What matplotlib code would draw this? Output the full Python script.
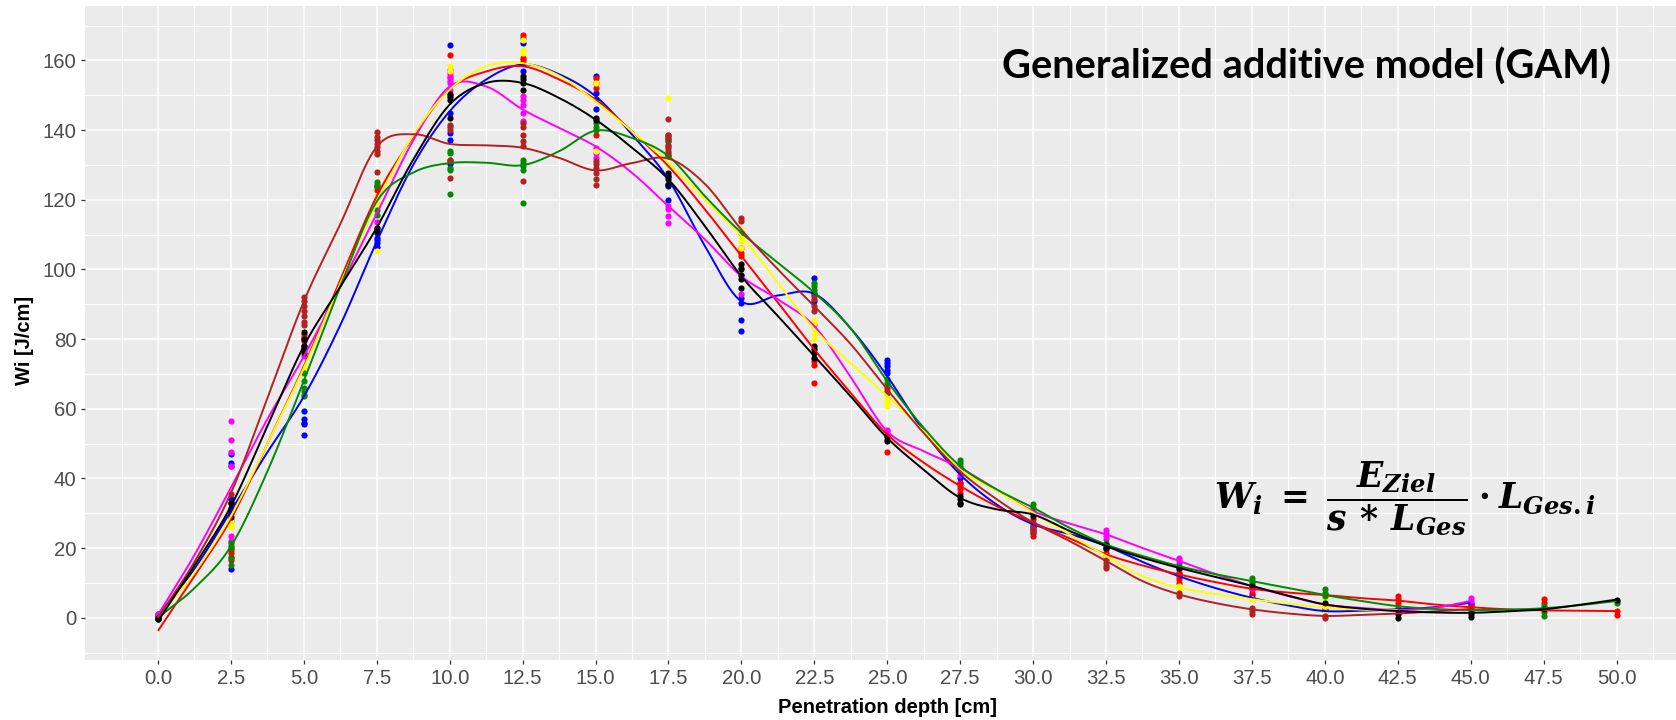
import numpy as np
import matplotlib
matplotlib.use("Agg")
import matplotlib.pyplot as plt

plt.rcParams['font.family'] = ['Liberation Sans', 'DejaVu Sans']
plt.rcParams['mathtext.fontset'] = 'custom'
plt.rcParams['mathtext.it'] = 'DejaVu Serif:italic:bold'
plt.rcParams['mathtext.rm'] = 'DejaVu Serif:bold'
plt.rcParams['mathtext.bf'] = 'DejaVu Serif:bold'

# ---------------- data ----------------
depth = [0.0, 2.5, 5.0, 7.5, 10.0, 12.5, 15.0, 17.5, 20.0, 22.5, 25.0,
         27.5, 30.0, 32.5, 35.0, 37.5, 40.0, 42.5, 45.0, 47.5, 50.0]

knots = [0.0, 1.25, 2.5, 3.75, 5.0, 6.25, 7.5, 8.75, 10.0, 11.25, 12.5, 13.75,
         15.0, 16.25, 17.5, 18.75, 20.0, 21.25, 22.5, 23.75, 25.0, 26.25, 27.5,
         28.75, 30.0, 31.25, 32.5, 33.75, 35.0, 36.25, 37.5, 38.75, 40.0, 41.25,
         42.5, 43.75, 45.0, 46.25, 47.5, 48.75, 50.0]

series_colors = ['#0000FF', '#FF0000', '#FF00FF', '#FFFF00', '#008B00', '#B22222', '#000000']

blue_pts = [[0, 0.5, 1.0], [47, 44.5, 43.5, 34, 33, 14], [80, 78, 59.3, 57, 56, 55.5, 52.3],
            [110.4, 109, 108.5, 107.5, 106.5], [164.5, 145, 139.2, 137.2, 130.1],
            [165, 159.2, 157], [155.6, 150.6, 149, 145.9], [126.7, 124.5, 123.9, 120],
            [91.8, 90.4, 85.6, 82.3], [97.6, 93, 91], [74.1, 73.1, 72.2, 71.2, 70.3],
            [40, 38.7], [26, 24.9], [21, 20], [13.9, 12.9], [6.5, 5.7], [2.9, 2], [2.4], [4.3, 3.5]]
red_pts = [[0, -0.5], [20.5, 19.5, 18.5, 17.5, 16.5], [81.5, 80.7, 79.3], [124.2, 123.5, 122.8],
           [161.6, 155, 150], [167.4, 166.4, 160.7, 160], [154.9, 153.5, 152.1, 138.7],
           [138.7, 137.5, 136.8], [106, 104.7, 103.8], [73.6, 72.6, 67.4], [52.1, 51.2, 47.5],
           [38.7, 37.8, 36.8, 35.9], [28.2, 27.3, 26.3, 25.4, 24.4, 23.4], [19.6, 18.7, 17.7],
           [12.9, 12, 11, 10], [9.1, 8.1, 7.2], [6.7], [6.2, 5.3, 4.3], [3.0], [5.5, 4.3], [1.9, 0.9]]
magenta_pts = [[0.5, 1], [56.5, 51, 47.5, 43.5, 28, 23.5, 22], [77.4, 75], [113.7, 112],
               [157.3, 156.5, 155.5, 154, 153.5, 151.6], [149.7, 148.7, 147.3, 144.9, 142.5],
               [134.9, 133.4, 132], [118.1, 117.2, 115.3, 113.3], [100.4, 98.5, 92.8], [84.2],
               [54, 53.5], [42, 41.1], [30.5], [25.3, 24.4, 23.4, 22.5], [17.2, 16.7, 15.8],
               [8.1], [3.4, 2.9], [2.2], [5.7, 4.8]]
yellow_pts = [[0], [28, 27, 26], [72, 70.5], [121, 119, 105.3], [158.3, 157], [165.9, 163, 162.1],
              [153.5, 133.9], [149.2, 130], [113.8, 111.4, 109.5, 108.1, 106.2],
              [85.6, 84.7, 81.8, 79.9], [63.6, 62.6, 61.6, 60.7], [42.1], [31.1], [17.7],
              [9.1, 8.1], [5.3], [6.2, 5.3, 3.4, 1.5], [2.1]]
green_pts = [[0, -0.5], [21.5, 20, 17, 15], [70.3, 68, 66, 65, 64, 63.5],
             [125.2, 123.8, 117, 115.5], [133.9, 133.4, 131.5, 129.1, 128.6, 121.7],
             [131.5, 130.6, 129.6, 128.6, 119.1], [142, 141, 140.1], [136.8, 135.3, 132.9, 132.4],
             [110.5], [96.1, 95.2, 94.2, 93.3], [68.4, 67.4], [45.4, 44.5, 43.5, 42.5],
             [32.5, 31.6], [21.5], [14.8], [11.5, 10.5, 10], [8.1, 7.2, 6.2], [2.9], [1.9],
             [3.4, 2.4, 1.5, 0.5], [4.8, 4.3]]
firebrick_pts = [[0], [35.5, 33, 31], [92, 91, 89.5, 88, 86.5, 85, 84],
                 [139.5, 138, 137, 136, 135, 134, 133, 128], [141.5, 141, 140.1, 131.5, 131, 126.3],
                 [142, 141, 138.7, 136.8, 135.3, 125.3], [131, 130.1, 129.1, 127.7, 125.8, 124.1],
                 [143.3, 138.7, 138.2, 137.7, 135.8, 134.8, 133.9, 133.4], [114.8, 113.8],
                 [92.3, 91.4, 89.4, 88], [66, 65, 64.5], [42], [27.3, 26.3, 25.4, 24.4],
                 [16.7, 15.8, 14.8, 14.3], [7.2, 6.2], [2.9, 1.9, 1], [0.5, 0], [1.2], [2.5]]
black_pts = [[0, -0.5], [33, 31.5, 30, 29], [82, 80, 78, 77, 76], [112, 111],
             [150.2, 149.5, 148.7, 143.5], [155.4, 154.5, 153.5, 151.6], [143.5, 143],
             [127.7, 126.7, 125.8, 124.3], [101.4, 100, 98.5, 97.1, 94.7], [78, 77, 76, 74.6],
             [52.1, 50.7], [34.9, 34, 33, 32.5], [30.1, 29.2], [21, 20.1], [14.3], [9.1], [4.3],
             [1, 0], [1, 0.3], [2.4], [5.2]]

# fitted GAM curves, read at the knots (series end where their data ends)
blue_fit = [0.5, 14, 30.6, 47.5, 63.5, 84, 108, 130, 145.4, 154.5, 158.8, 156, 149.7, 138.7,
            125.8, 106.7, 90.8, 92.5, 93, 83, 69.3, 53.5, 41.1, 32.5, 26.8, 24, 20.6, 16, 11.9,
            8.5, 5.7, 3.5, 1.9, 2, 2.4, 3, 4.3]
red_fit = [-3.8, 12, 28.3, 50, 72.2, 97, 121, 138, 151.8, 156.8, 158.3, 154.5, 148.7, 139.6,
           129.6, 117.2, 103.8, 90.5, 77, 64.5, 52.6, 44.5, 37.8, 32, 27.3, 22.8, 18.2, 15, 12.4,
           10.2, 8.3, 7.2, 6.5, 5.6, 4.9, 3.8, 3.0, 2.4, 2.1, 2.0, 1.9]
magenta_fit = [0.8, 18, 37.3, 57, 75, 95, 116, 137, 152.5, 152.5, 145.9, 140.6, 135.3, 127.7,
               118.1, 108.6, 98, 91.4, 83.7, 69, 53.5, 47.8, 43, 36.8, 30.6, 27, 23.9, 20, 16.3,
               12.5, 9.1, 6.2, 3.8, 2.8, 2.2, 2.8, 4.8]
yellow_fit = [0, 13, 29.2, 50, 71.7, 96, 119, 138.5, 151.6, 158.3, 159.2, 155.6, 148.2, 139.6,
              130.6, 120, 109.5, 96.1, 82.8, 73, 63.6, 53.5, 42.5, 36.5, 30.1, 23.9, 17.7, 11.9,
              8.6, 6.8, 5.3, 4, 2.9, 2.3, 2.1]
green_fit = [0, 8.5, 20.5, 42, 68, 95, 119.5, 127.8, 130.5, 130.6, 129.9, 133.9, 139.8, 137.7,
             132.5, 121, 110.5, 101.9, 93.3, 83, 67.9, 54.5, 43.5, 36.8, 31.6, 25.8, 21, 17.7,
             14.8, 12.5, 10.5, 8.5, 6.5, 4.8, 3.3, 2.5, 2.2, 2.3, 2.7, 3.6, 4.8]
firebrick_fit = [0, 16, 35.8, 63, 90.8, 113, 135.2, 138.8, 136, 135.6, 134.9, 132, 128.4, 130.5,
                 131.8, 124.5, 111.4, 100, 89.4, 78.5, 65.5, 53, 42, 34, 27.3, 22, 16.3, 10.5,
                 6.7, 4.2, 2.4, 1.2, 0.5, 0.8, 1.2, 1.8, 2.5]
black_fit = [-1, 15, 32, 55, 78, 95, 112, 131.5, 147.3, 153.5, 153.5, 149.2, 143, 134.9, 125.8,
             112.4, 98, 86.6, 75.1, 63.5, 51.6, 42.5, 34.4, 31.1, 29.6, 24.9, 20.6, 17.2, 14.3,
             11.7, 9.1, 6.3, 3.8, 2.6, 1.9, 1.5, 1.4, 1.8, 2.4, 3.7, 5.2]

all_pts = [blue_pts, red_pts, magenta_pts, yellow_pts, green_pts, firebrick_pts, black_pts]
all_fit = [blue_fit, red_fit, magenta_fit, yellow_fit, green_fit, firebrick_fit, black_fit]

x_ticks = [0.0, 2.5, 5.0, 7.5, 10.0, 12.5, 15.0, 17.5, 20.0, 22.5, 25.0, 27.5, 30.0, 32.5,
           35.0, 37.5, 40.0, 42.5, 45.0, 47.5, 50.0]
y_ticks = [0, 20, 40, 60, 80, 100, 120, 140, 160]


def hermite_smooth(xk, yk, n=24):
    xk = np.asarray(xk, float)
    yk = np.asarray(yk, float)
    m = np.empty_like(yk)
    m[1:-1] = (yk[2:] - yk[:-2]) / (xk[2:] - xk[:-2])
    m[0] = (yk[1] - yk[0]) / (xk[1] - xk[0])
    m[-1] = (yk[-1] - yk[-2]) / (xk[-1] - xk[-2])
    xs, ys = [], []
    for i in range(len(xk) - 1):
        h = xk[i + 1] - xk[i]
        t = np.linspace(0, 1, n, endpoint=(i == len(xk) - 2))
        h00 = 2 * t**3 - 3 * t**2 + 1
        h10 = t**3 - 2 * t**2 + t
        h01 = -2 * t**3 + 3 * t**2
        h11 = t**3 - t**2
        xs.append(xk[i] + t * h)
        ys.append(h00 * yk[i] + h10 * h * m[i] + h01 * yk[i + 1] + h11 * h * m[i + 1])
    return np.concatenate(xs), np.concatenate(ys)


# ---------------- figure ----------------
W, H = 1676, 720
fig = plt.figure(figsize=(W / 100, H / 100), dpi=100)
fig.patch.set_facecolor('white')
x0, x1 = -2.5, 52.5
px_per_unit = 29.17
ax_left = 158 - 2.5 * px_per_unit
ax_w = (x1 - x0) * px_per_unit
ax = fig.add_axes([ax_left / W, 1 - 660 / H, ax_w / W, 654 / H])
ax.set_facecolor('#EBEBEB')
for s in ax.spines.values():
    s.set_visible(False)
ax.set_xlim(x0, x1)
ax.set_ylim(-12.15, 175.6)

ax.set_xticks(x_ticks)
ax.set_xticklabels([f"{v:.1f}" for v in x_ticks])
ax.set_yticks(y_ticks)
ax.set_xticks([v - 1.25 for v in x_ticks] + [51.25], minor=True)
ax.set_yticks([-10, 10, 30, 50, 70, 90, 110, 130, 150, 170], minor=True)
ax.grid(which='major', color='white', linewidth=1.1, zorder=0)
ax.grid(which='minor', color='white', linewidth=0.8, zorder=0)
ax.set_axisbelow(True)
ax.tick_params(which='major', length=3.2, width=0.9, color='#333333',
               labelcolor='#4D4D4D', labelsize=14.7, pad=3)
ax.tick_params(which='minor', length=0)

for pts, fit, col in zip(all_pts, all_fit, series_colors):
    xs, ys = [], []
    for d, vals in zip(depth, pts):
        xs.extend([d] * len(vals))
        ys.extend(vals)
    ax.scatter(xs, ys, s=20, color=col, linewidths=0, zorder=2)

for fit, col in zip(all_fit, series_colors):
    sx, sy = hermite_smooth(knots[:len(fit)], fit)
    ax.plot(sx, sy, color=col, linewidth=1.4, zorder=3, solid_capstyle='butt')

fig.text(25 / W, 1 - 340 / H, 'Wi [J/cm]', rotation=90, fontsize=14.5, fontweight='bold',
         ha='center', va='center', color='black')
fig.text((ax_left + ax_w / 2) / W, 1 - 713 / H, 'Penetration depth [cm]', fontsize=14.5,
         fontweight='bold', ha='center', va='baseline', color='black')

renderer = fig.canvas.get_renderer()

title = fig.text(1002 / W, 1 - 79 / H, 'Generalized additive model (GAM)',
                 fontsize=30, fontweight='bold', family=['Lato', 'DejaVu Sans'],
                 ha='left', va='baseline', color='black')
w = title.get_window_extent(renderer).width
title.set_fontsize(30 * 609 / w)

formula = fig.text(1214 / W, 1 - 499 / H,
                   r'$W_i\;=\;\dfrac{E_{Ziel}}{s\,*\,L_{Ges}}\cdot L_{Ges.i}$',
                   fontsize=24, ha='left', va='center', color='black')
w = formula.get_window_extent(renderer).width
formula.set_fontsize(24 * 383 / w)

fig.savefig('out.png', dpi=100, facecolor='white')
